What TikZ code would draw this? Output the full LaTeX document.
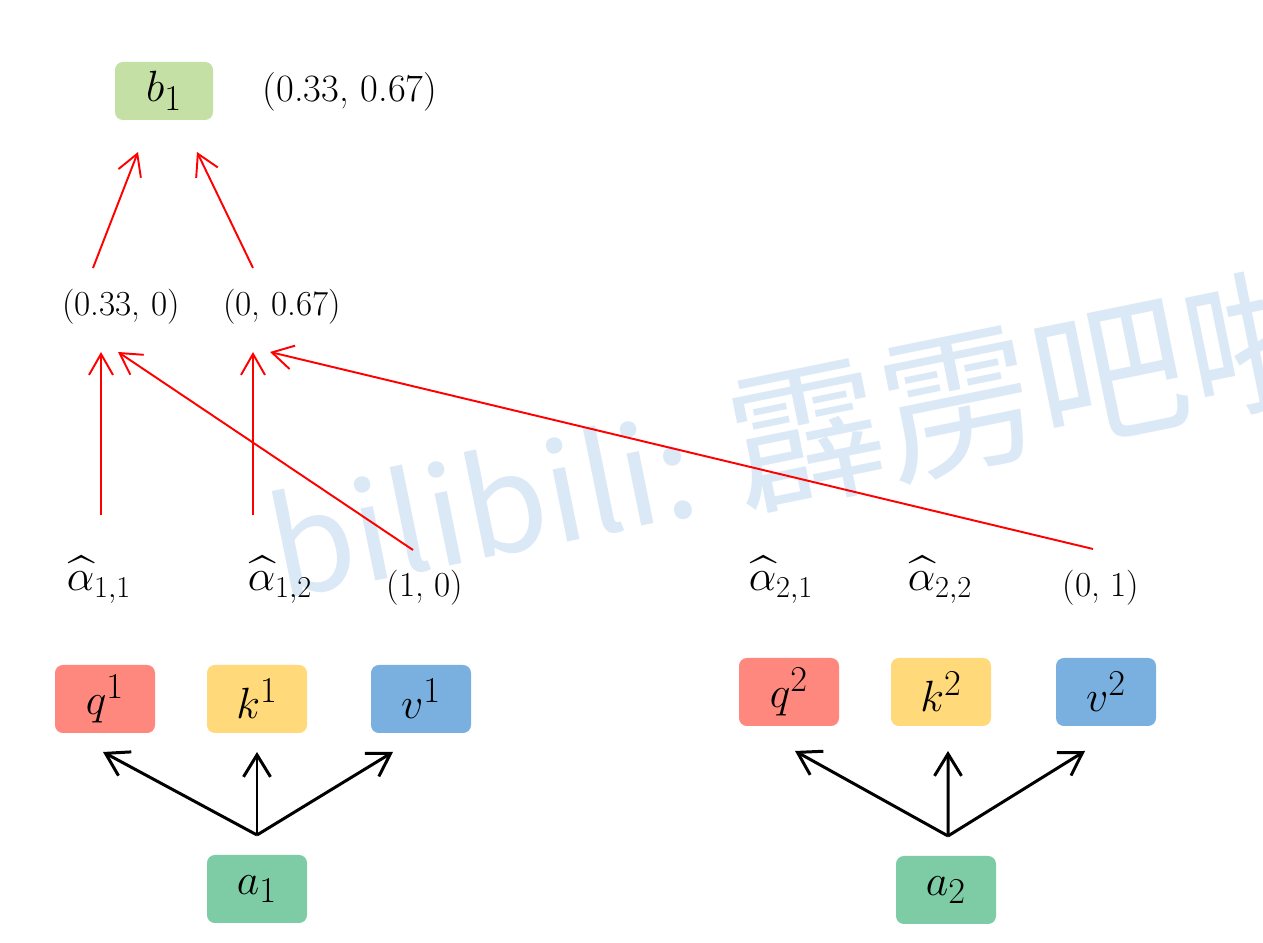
\documentclass[tikz,border=0pt]{standalone}
\usepackage{amsmath,amssymb}
\usepackage{fontspec}
\newfontfamily\wmfont{Noto Sans CJK SC}
\usepackage{tikz}
\usetikzlibrary{positioning,arrows.meta}
\usepackage{xcolor}
\definecolor{qred}{RGB}{255,136,126}
\definecolor{kyel}{RGB}{255,217,122}
\definecolor{vblue}{RGB}{122,176,224}
\definecolor{agreen}{RGB}{126,204,166}
\definecolor{bgreen}{RGB}{197,224,164}
\definecolor{wmblue}{RGB}{219,233,247}

\begin{document}
\begin{tikzpicture}[
  box/.style={rounded corners=4.5pt,minimum width=2cm,minimum height=1.36cm,inner sep=0pt,font=\fontsize{32}{36}\selectfont},
  tup/.style={inner sep=0pt,font=\fontsize{20}{23}\selectfont},
  hatlbl/.style={inner sep=0pt,font=\fontsize{27}{30}\selectfont},
  attn/.style={-{Straight Barb[length=4.2mm,width=4.8mm]},red,line width=1.1pt},
  proj/.style={-{Straight Barb[length=4.4mm,width=5.4mm]},line width=1.7pt}]
\useasboundingbox (0,0) rectangle (25.26,18.86);
\clip (0,0) rectangle (25.26,18.86);
\fill[white] (0,0) rectangle (25.26,18.86);
% watermark
\node[anchor=base west,rotate=11.5,inner sep=0pt,text=wmblue,font=\wmfont\fontsize{77}{84}\selectfont] (mark) at (5.62,6.86) {bilibili: {\fontsize{88}{96}\selectfont 霹雳吧啦}};

% output
\node[box,fill=bgreen,minimum width=1.96cm,minimum height=1.16cm,font=\fontsize{28}{32}\selectfont] (b1) at (3.28,17.04) {$b_1$};
\node[tup,font=\fontsize{22}{26}\selectfont] (sum) at (7.0,17.02) {(0.33, 0.67)};
\node[tup] (t1) at (2.42,12.72) {(0.33, 0)};
\node[tup] (t2) at (5.64,12.72) {(0, 0.67)};

% attention scores and values
\node[hatlbl] (a11) at (1.98,7.26) {$\widehat{\alpha}_{1,1}$};
\node[hatlbl] (a12) at (5.6,7.26) {$\widehat{\alpha}_{1,2}$};
\node[tup] (r1) at (8.5,7.1) {(1, 0)};
\node[hatlbl] (a21) at (15.62,7.26) {$\widehat{\alpha}_{2,1}$};
\node[hatlbl] (a22) at (18.8,7.26) {$\widehat{\alpha}_{2,2}$};
\node[tup] (r2) at (22.02,7.1) {(0, 1)};

% q k v
\node[box,fill=qred] (q1) at (2.1,4.88) {$q^1$};
\node[box,fill=kyel] (k1) at (5.14,4.88) {$k^1$};
\node[box,fill=vblue] (v1) at (8.42,4.88) {$v^1$};
\node[box,fill=qred] (q2) at (15.78,5.02) {$q^2$};
\node[box,fill=kyel] (k2) at (18.82,5.02) {$k^2$};
\node[box,fill=vblue] (v2) at (22.12,5.02) {$v^2$};
\node[box,fill=agreen] (in1) at (5.14,1.08) {$a_1$};
\node[box,fill=agreen] (in2) at (18.92,1.06) {$a_2$};

\draw[proj] ([shift={(0,1.08)}]in1.center) -- ([shift={(-0.04,-1.06)}]q1.center);
\draw[proj] ([shift={(0,1.08)}]in1.center) -- ([shift={(0,-1.06)}]k1.center);
\draw[proj] ([shift={(0,1.08)}]in1.center) -- ([shift={(-0.56,-1.06)}]v1.center);
\draw[proj] ([shift={(0.04,1.08)}]in2.center) -- ([shift={(0.12,-1.18)}]q2.center);
\draw[proj] ([shift={(0.04,1.08)}]in2.center) -- ([shift={(0.14,-1.18)}]k2.center);
\draw[proj] ([shift={(0.04,1.08)}]in2.center) -- ([shift={(-0.42,-1.18)}]v2.center);

\draw[attn] ([shift={(0.04,1.30)}]a11.center) -- ([shift={(-0.40,-0.90)}]t1.center);
\draw[attn] ([shift={(-0.24,0.76)}]r1.center) -- ([shift={(-0.06,-0.90)}]t1.center);
\draw[attn] ([shift={(-0.54,1.30)}]a12.center) -- ([shift={(-0.58,-0.90)}]t2.center);
\draw[attn] ([shift={(-0.16,0.78)}]r2.center) -- ([shift={(-0.24,-0.90)}]t2.center);

\draw[attn] ([shift={(-0.56,0.78)}]t1.center) -- ([shift={(-0.52,-1.22)}]b1.center);
\draw[attn] ([shift={(-0.58,0.78)}]t2.center) -- ([shift={(0.66,-1.22)}]b1.center);
\end{tikzpicture}
\end{document}
